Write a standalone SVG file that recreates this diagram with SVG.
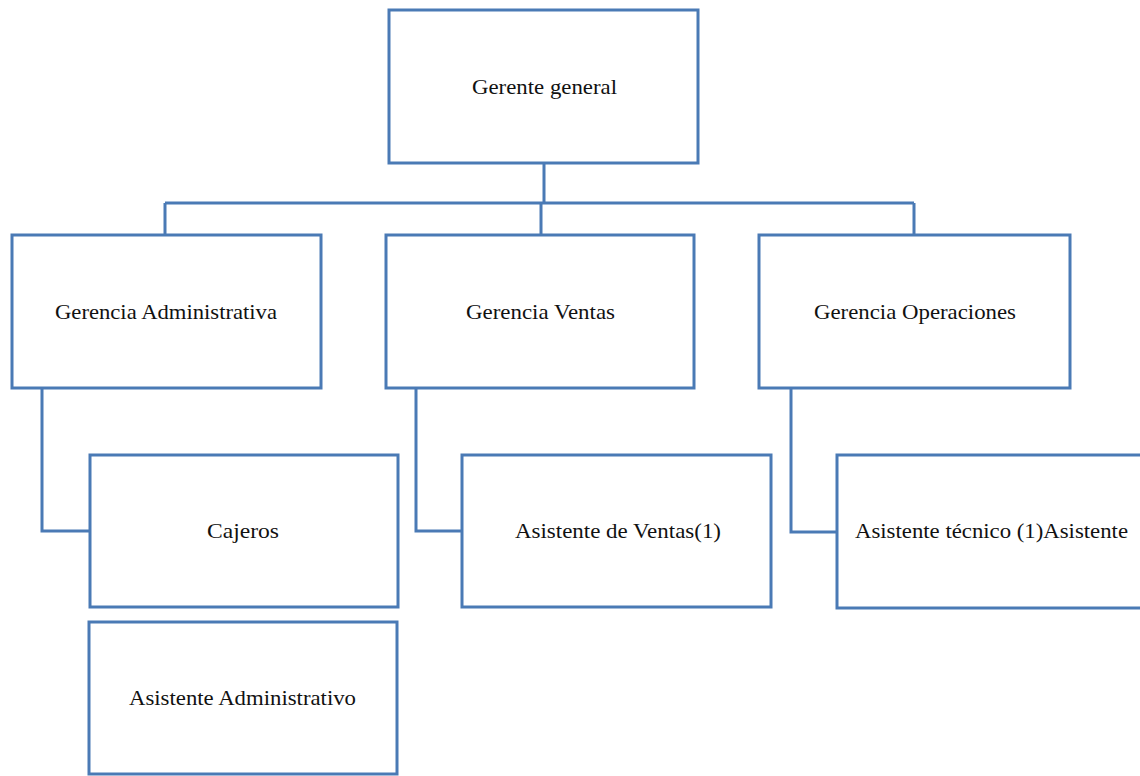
<svg xmlns="http://www.w3.org/2000/svg" width="1140" height="776" viewBox="0 0 1140 776">
<style>
.box{fill:#fff;stroke:#4a7ab5;stroke-width:3}
.ln{fill:none;stroke:#4a7ab5;stroke-width:3}
text{font-family:"Liberation Serif","Times New Roman",serif;font-size:21px;fill:#111}
</style>
<rect width="1140" height="776" fill="#fff"/>
<g id="connectors">
<path class="ln" d="M544 163V203M165 203H914M165 203V235M541 203V235M914 203V235"/>
<path class="ln" d="M42 388V531H90"/>
<path class="ln" d="M416 388V531H462"/>
<path class="ln" d="M791 388V532H837"/>
</g>
<g id="gerente"><rect class="box" x="389" y="10" width="309" height="153"/><text x="472" y="94" textLength="145" lengthAdjust="spacingAndGlyphs">Gerente general</text></g>
<g id="gadmin"><rect class="box" x="12" y="235" width="309" height="153"/><text x="55" y="319" textLength="222" lengthAdjust="spacingAndGlyphs">Gerencia Administrativa</text></g>
<g id="gventas"><rect class="box" x="386" y="235" width="308" height="153"/><text x="466" y="319" textLength="149" lengthAdjust="spacingAndGlyphs">Gerencia Ventas</text></g>
<g id="goper"><rect class="box" x="759" y="235" width="311" height="153"/><text x="814" y="319" textLength="202" lengthAdjust="spacingAndGlyphs">Gerencia Operaciones</text></g>
<g id="cajeros"><rect class="box" x="90" y="455" width="308" height="152"/><text x="207" y="538" textLength="72" lengthAdjust="spacingAndGlyphs">Cajeros</text></g>
<g id="asventas"><rect class="box" x="462" y="455" width="309" height="152"/><text x="515" y="538" textLength="206" lengthAdjust="spacingAndGlyphs">Asistente de Ventas(1)</text></g>
<g id="astec"><rect class="box" x="837" y="455" width="320" height="153"/><text x="855" y="538" textLength="273" lengthAdjust="spacingAndGlyphs">Asistente técnico (1)Asistente</text></g>
<g id="asadmin"><rect class="box" x="89" y="622" width="308" height="152"/><text x="129" y="705" textLength="227" lengthAdjust="spacingAndGlyphs">Asistente Administrativo</text></g>
</svg>
